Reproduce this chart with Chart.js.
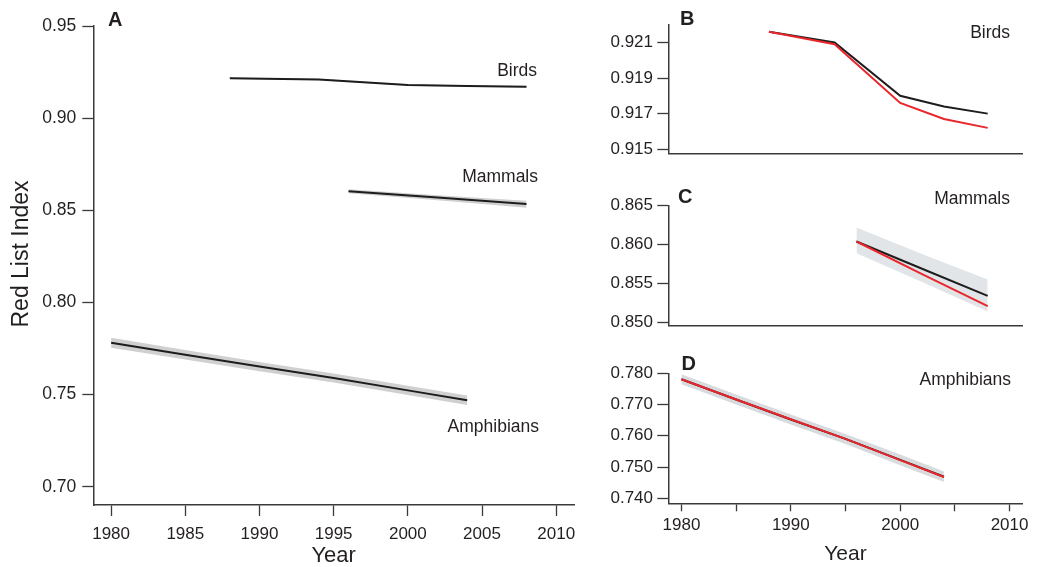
<!DOCTYPE html>
<html>
<head>
<meta charset="utf-8">
<script src="https://cdn.jsdelivr.net/npm/chart.js@4/dist/chart.umd.min.js"></script>
<style>
html,body{margin:0;padding:0;background:#fff;width:1042px;height:567px;overflow:hidden;position:relative}
canvas{position:absolute}
</style>
</head>
<body>
<canvas id="cA" style="left:0;top:0;width:590px;height:567px" width="590" height="567"></canvas>
<canvas id="cB" style="left:600px;top:0;width:442px;height:168px" width="442" height="168"></canvas>
<canvas id="cC" style="left:600px;top:168px;width:442px;height:172px" width="442" height="172"></canvas>
<canvas id="cD" style="left:600px;top:340px;width:442px;height:227px" width="442" height="227"></canvas>
<script>
// ---------- data ----------
const xTicks = [1980, 1985, 1990, 1995, 2000, 2005, 2010];
const xTickLabelsA = ['1980', '1985', '1990', '1995', '2000', '2005', '2010'];
const xTickLabelsD = ['1980', '', '1990', '', '2000', '', '2010'];

const yTicksA = [0.70, 0.75, 0.80, 0.85, 0.90, 0.95];
const yTickLabelsA = ['0.70', '0.75', '0.80', '0.85', '0.90', '0.95'];
const yTicksB = [0.915, 0.917, 0.919, 0.921];
const yTickLabelsB = ['0.915', '0.917', '0.919', '0.921'];
const yTicksC = [0.850, 0.855, 0.860, 0.865];
const yTickLabelsC = ['0.850', '0.855', '0.860', '0.865'];
const yTicksD = [0.740, 0.750, 0.760, 0.770, 0.780];
const yTickLabelsD = ['0.740', '0.750', '0.760', '0.770', '0.780'];

const birdsYears = [1988, 1994, 2000, 2004, 2008];
const birdsRLI = [0.9216, 0.9210, 0.9180, 0.9174, 0.9170];
const birdsRLIred = [0.9216, 0.9209, 0.9176, 0.9167, 0.9162];
const birdsLow = [0.9212, 0.9206, 0.9176, 0.9170, 0.9166];
const birdsHigh = [0.9220, 0.9214, 0.9184, 0.9178, 0.9174];

const mammalsYears = [1996, 2002, 2008];
const mammalsRLI = [0.8604, 0.8569, 0.8534];
const mammalsRLIred = [0.8604, 0.8562, 0.8521];
const mammalsLow = [0.8592, 0.8554, 0.8514];
const mammalsHigh = [0.8614, 0.8582, 0.8552];
const mammalsLowInset = [0.8589, 0.8552, 0.8514];
const mammalsHighInset = [0.8622, 0.8588, 0.8555];

const amphibiansYears = [1980, 1985, 1990, 1995, 2000, 2004];
const amphibiansRLI = [0.7781, 0.7716, 0.7652, 0.7590, 0.7523, 0.7469];
const amphibiansRLIred = [0.7781, 0.7716, 0.7653, 0.7590, 0.7522, 0.7468];
const amphibiansLow = [0.7754, 0.7690, 0.7627, 0.7565, 0.7498, 0.7443];
const amphibiansHigh = [0.7808, 0.7742, 0.7677, 0.7615, 0.7548, 0.7495];
const amphibiansLowInset = [0.7765, 0.7700, 0.7636, 0.7574, 0.7506, 0.7452];
const amphibiansHighInset = [0.7797, 0.7732, 0.7668, 0.7606, 0.7540, 0.7486];

// ---------- helpers ----------
const FONT = '"Liberation Sans", Arial, Helvetica, sans-serif';
const INK = '#231f20';
const AXIS = '#3a3a3a';

function pts(xs, ys) { return xs.map((x, i) => ({ x: x, y: ys[i] })); }

function lineDs(xs, ys, color, width, order) {
  return { data: pts(xs, ys), borderColor: color, borderWidth: width, pointRadius: 0,
           fill: false, tension: 0, order: order };
}
function bandDs(xs, lo, hi, color, baseIndex) {
  return [
    { data: pts(xs, lo), borderWidth: 0, borderColor: 'rgba(0,0,0,0)', pointRadius: 0, fill: false, order: 10 },
    { data: pts(xs, hi), borderWidth: 0, borderColor: 'rgba(0,0,0,0)', pointRadius: 0,
      backgroundColor: color, fill: { target: baseIndex }, order: 10 }
  ];
}

const textPlugin = {
  id: 'panelText',
  afterDraw(chart, args, opts) {
    const ctx = chart.ctx;
    (opts.items || []).forEach(it => {
      ctx.save();
      ctx.font = it.font;
      ctx.fillStyle = it.color || INK;
      ctx.textAlign = it.align || 'left';
      ctx.textBaseline = 'middle';
      ctx.translate(it.x, it.y);
      if (it.rotate) ctx.rotate(it.rotate);
      ctx.fillText(it.text, 0, 0);
      ctx.restore();
    });
  }
};

function makeChart(id, cfg) {
  const xScale = {
    type: 'linear', min: 1978.8, max: 2011.2,
    afterBuildTicks: s => { s.ticks = xTicks.map(v => ({ value: v })); },
    afterFit: s => { s.height = cfg.xHeight; },
    grid: { drawOnChartArea: false, drawTicks: cfg.showXTicks, tickLength: cfg.xTickLen || 0,
            tickColor: AXIS, tickWidth: 1.3 },
    border: { display: true, color: AXIS, width: 1.5 },
    ticks: { display: cfg.showXTicks, padding: cfg.xPad || 0, maxRotation: 0, autoSkip: false,
             color: INK, font: { family: FONT, size: 17 },
             callback: (v, i) => cfg.xLabels ? cfg.xLabels[i] : '' },
    title: cfg.xTitle ? { display: true, text: cfg.xTitle, color: INK,
             font: { family: FONT, size: cfg.xTitleSize, lineHeight: 1 },
             padding: { top: 0, bottom: cfg.xTitlePad } } : { display: false }
  };
  const yScale = {
    type: 'linear', min: cfg.yMin, max: cfg.yMax,
    afterBuildTicks: s => { s.ticks = cfg.yTicks.map(v => ({ value: v })); },
    afterFit: s => { s.width = cfg.yWidth; },
    grid: { drawOnChartArea: false, drawTicks: true, tickLength: 11, tickColor: AXIS, tickWidth: 1.3 },
    border: { display: true, color: AXIS, width: 1.5 },
    ticks: { padding: cfg.yPad, color: INK, font: { family: FONT, size: cfg.yFontSize || 17 },
             callback: (v, i) => cfg.yLabels[i] },
    title: { display: false }
  };
  return new Chart(document.getElementById(id), {
    type: 'line',
    data: { datasets: cfg.datasets },
    options: {
      responsive: false, animation: false, devicePixelRatio: 1,
      layout: { padding: { left: 0, right: cfg.padRight, top: cfg.padTop, bottom: 0 } },
      scales: { x: xScale, y: yScale },
      plugins: { legend: { display: false }, tooltip: { enabled: false },
                 panelText: { items: cfg.texts } },
      elements: { line: { borderCapStyle: 'butt' } }
    },
    plugins: [textPlugin]
  });
}

const GREY = '#d0d0d0';
const GREY2 = 'rgba(185,193,199,0.42)';
const GREY3 = 'rgba(175,184,190,0.5)';
const BLACK = '#1f1c1d';
const RED = '#e8262b';

// ---------- Panel A ----------
makeChart('cA', {
  yMin: 0.6901, yMax: 0.95, yTicks: yTicksA, yLabels: yTickLabelsA, yWidth: 93.3, yPad: 6, yFontSize: 17.5,
  xHeight: 62, showXTicks: true, xTickLen: 11, xPad: 8, xLabels: xTickLabelsA,
  xTitle: 'Year', xTitleSize: 22, xTitlePad: 0,
  padRight: 16, padTop: 26,
  datasets: [
    ...bandDs(birdsYears, birdsLow, birdsHigh, GREY, 0),
    ...bandDs(mammalsYears, mammalsLow, mammalsHigh, GREY, 2),
    ...bandDs(amphibiansYears, amphibiansLow, amphibiansHigh, GREY, 4),
    lineDs(birdsYears, birdsRLI, BLACK, 2, 1),
    lineDs(mammalsYears, mammalsRLI, BLACK, 2, 1),
    lineDs(amphibiansYears, amphibiansRLI, BLACK, 2, 1)
  ],
  texts: [
    { text: 'Red List Index', x: 22, y: 254, align: 'center', rotate: -Math.PI / 2, font: '23px ' + FONT },
    { text: 'A', x: 108, y: 20, font: 'bold 20px ' + FONT },
    { text: 'Birds', x: 537, y: 71, align: 'right', font: '17.5px ' + FONT },
    { text: 'Mammals', x: 538, y: 177.5, align: 'right', font: '17.5px ' + FONT },
    { text: 'Amphibians', x: 539, y: 427, align: 'right', font: '17.5px ' + FONT }
  ]
});

// ---------- Panel B ----------
makeChart('cB', {
  yMin: 0.91476, yMax: 0.92202, yTicks: yTicksB, yLabels: yTickLabelsB, yWidth: 68.3, yPad: 4.3,
  xHeight: 13, showXTicks: false,
  padRight: 19.3, padTop: 24.3,
  datasets: [
    lineDs(birdsYears, birdsRLI, BLACK, 2, 2),
    lineDs(birdsYears, birdsRLIred, RED, 2, 1)
  ],
  texts: [
    { text: 'B', x: 80, y: 19, font: 'bold 20px ' + FONT },
    { text: 'Birds', x: 410, y: 33, align: 'right', font: '17.5px ' + FONT }
  ]
});

// ---------- Panel C ----------
makeChart('cC', {
  yMin: 0.8496, yMax: 0.865, yTicks: yTicksC, yLabels: yTickLabelsC, yWidth: 68.3, yPad: 4.3,
  xHeight: 4, showXTicks: false,
  padRight: 19.3, padTop: 37.7,
  datasets: [
    ...bandDs(mammalsYears, mammalsLowInset, mammalsHighInset, GREY2, 0),
    lineDs(mammalsYears, mammalsRLI, BLACK, 2, 2),
    lineDs(mammalsYears, mammalsRLIred, RED, 2, 1)
  ],
  texts: [
    { text: 'C', x: 78, y: 29.5, font: 'bold 20px ' + FONT },
    { text: 'Mammals', x: 410, y: 31.5, align: 'right', font: '17.5px ' + FONT }
  ]
});

// ---------- Panel D ----------
makeChart('cD', {
  yMin: 0.7384, yMax: 0.780, yTicks: yTicksD, yLabels: yTickLabelsD, yWidth: 68.3, yPad: 4.3,
  xHeight: 63.7, showXTicks: true, xTickLen: 8, xPad: 4, xLabels: xTickLabelsD,
  xTitle: 'Year', xTitleSize: 21, xTitlePad: 2.5,
  padRight: 19.3, padTop: 33.3,
  datasets: [
    ...bandDs(amphibiansYears, amphibiansLowInset, amphibiansHighInset, GREY3, 0),
    lineDs(amphibiansYears, amphibiansRLI, BLACK, 2, 2),
    lineDs(amphibiansYears, amphibiansRLIred, RED, 2, 1)
  ],
  texts: [
    { text: 'D', x: 81.5, y: 24, font: 'bold 20px ' + FONT },
    { text: 'Amphibians', x: 411, y: 40.5, align: 'right', font: '17.5px ' + FONT }
  ]
});
</script>
</body>
</html>
